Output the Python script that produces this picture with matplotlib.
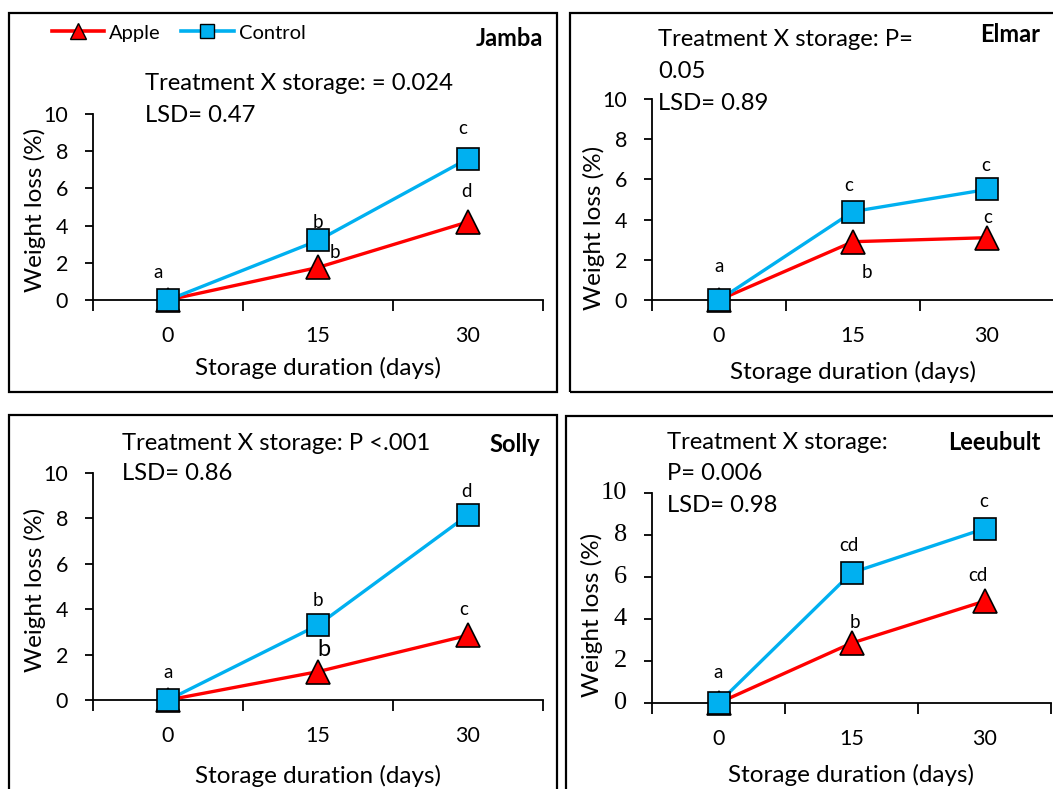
import matplotlib
matplotlib.use("Agg")
import matplotlib.pyplot as plt
from matplotlib import font_manager
from matplotlib.lines import Line2D
from matplotlib.patches import Rectangle
from matplotlib.transforms import ScaledTranslation

plt.rcParams['font.family'] = ['Lato', 'DejaVu Sans']

W, H = 1053, 789
DPI = 100

days = ["0", "15", "30"]
y_ticks = [0, 2, 4, 6, 8, 10]

# Data
jamba_apple = [0.0, 1.75, 4.2]
jamba_control = [0.0, 3.2, 7.6]
elmar_apple = [0.0, 2.9, 3.1]
elmar_control = [0.0, 4.4, 5.5]
solly_apple = [0.0, 1.25, 2.85]
solly_control = [0.0, 3.3, 8.15]
leeubult_apple = [0.0, 2.85, 4.85]
leeubult_control = [0.0, 6.2, 8.3]

cultivars = ["Jamba", "Elmar", "Solly", "Leeubult"]
stats_text = [
    ["Treatment X storage: = 0.024", "LSD= 0.47"],
    ["Treatment X storage: P=", "0.05", "LSD= 0.89"],
    ["Treatment X storage: P <.001", "LSD= 0.86"],
    ["Treatment X storage:", "P= 0.006", "LSD= 0.98"],
]

# letters: (series, index, text)
jamba_letters = [("c", 0, "a"), ("c", 1, "b"), ("a", 1, "b"), ("c", 2, "c"), ("a", 2, "d")]
elmar_letters = [("c", 0, "a"), ("c", 1, "c"), ("a", 1, "b"), ("c", 2, "c"), ("a", 2, "c")]
solly_letters = [("c", 0, "a"), ("c", 1, "b"), ("a", 1, "b"), ("c", 2, "d"), ("a", 2, "c")]
leeubult_letters = [("c", 0, "a"), ("c", 1, "cd"), ("a", 1, "b"), ("c", 2, "c"), ("a", 2, "cd")]

RED = "#FF0000"
BLUE = "#00B0F0"

# serif font for the Leeubult y tick labels
SERIF = "Liberation Serif"
try:
    _p = font_manager.findfont(font_manager.FontProperties(family=SERIF), fallback_to_default=False)
    if "erif" not in _p:
        SERIF = "DejaVu Serif"
except Exception:
    SERIF = "DejaVu Serif"

fig = plt.figure(figsize=(W / DPI, H / DPI), dpi=DPI)


def fx(x):
    return x / W


def fy(y):
    return 1 - y / H


def px2pt(v):
    return v * 72 / DPI


# layout per panel (pixels)
panels = [
    dict(box=(9, 13, 557, 392), ax=(93, 543, 300, 114), apple=jamba_apple, control=jamba_control,
         letters=jamba_letters,
         offs=[(-10, 27), (0, 18), (17, 15), (-5, 30), (-2, 30)], big=False,
         stats_xy=(145, 84), stats_dy=32, title_xy=(543, 38), ylab=(35, 210), xlab_y=368, serif=False),
    dict(box=(570, 13, 1065, 392), ax=(652, 1054, 300, 99), apple=elmar_apple, control=elmar_control,
         letters=elmar_letters,
         offs=[(0, 34), (-4, 26), (14, -31), (-1, 24), (1, 20)], big=False,
         stats_xy=(658, 40), stats_dy=31.5, title_xy=(1040, 35), ylab=(594, 228), xlab_y=372, serif=False),
    dict(box=(9, 415, 557, 800), ax=(93, 543, 700, 473), apple=solly_apple, control=solly_control,
         letters=solly_letters,
         offs=[(0, 27), (0, 25), (6, 22), (-2, 23), (-4, 26)], big=True,
         stats_xy=(122, 443), stats_dy=31, title_xy=(540, 445), ylab=(35, 590), xlab_y=776, serif=False),
    dict(box=(566, 416, 1065, 800), ax=(652, 1051, 703, 493), apple=leeubult_apple, control=leeubult_control,
         letters=leeubult_letters,
         offs=[(0, 31), (-3, 27), (3, 21), (-1, 27), (-7, 26)], big=False,
         stats_xy=(667, 442), stats_dy=32, title_xy=(1040, 443), ylab=(592, 615), xlab_y=775, serif=True),
]

for i, p in enumerate(panels):
    x0, y0, x1, y1 = p["box"]
    fig.add_artist(Rectangle((fx(x0), fy(y1)), fx(x1 - x0), (y1 - y0) / H,
                             transform=fig.transFigure, fill=False, lw=1.6,
                             edgecolor="black", zorder=0))
    l, r, yb, yt = p["ax"]
    ax = fig.add_axes([fx(l), fy(yb), fx(r - l), (yb - yt) / H])
    ax.set_facecolor("none")
    xs = list(range(len(days)))
    ax.plot(xs, p["apple"], color=RED, lw=2.4, marker="^", markersize=17.5,
            markerfacecolor=RED, markeredgecolor="black", markeredgewidth=1.2,
            clip_on=False, zorder=3)
    ax.plot(xs, p["control"], color=BLUE, lw=2.4, marker="s", markersize=16,
            markerfacecolor=BLUE, markeredgecolor="black", markeredgewidth=1.2,
            clip_on=False, zorder=4)
    ax.set_xlim(-0.5, len(days) - 0.5)
    ax.set_ylim(0, 10)
    for s in ["top", "right"]:
        ax.spines[s].set_visible(False)
    ax.spines["left"].set_linewidth(1.3)
    ax.spines["bottom"].set_linewidth(1.3)
    ax.set_xticks([k - 0.5 for k in range(len(days) + 1)])
    ax.set_xticklabels([])
    ax.set_xticks(xs, minor=True)
    ax.set_xticklabels(days, minor=True)
    ax.tick_params(axis="x", which="major", direction="out", length=8, width=1.3)
    ax.tick_params(axis="x", which="minor", length=0, pad=19, labelsize=15.5)
    ax.tick_params(axis="y", direction="out", length=6, width=1.3, pad=12, labelsize=15.5)
    ax.set_yticks(y_ticks)
    if p["serif"]:
        ax.tick_params(axis="y", labelleft=False)
        trans = ax.get_yaxis_transform() + ScaledTranslation(-25 / DPI, 0, fig.dpi_scale_trans)
        for v in y_ticks:
            ax.text(0, v, str(v), transform=trans, ha="right", va="center",
                    fontfamily=SERIF, fontsize=19, clip_on=False)

    # letters
    for (ser, idx, txt), (dx, dy) in zip(p["letters"], p["offs"]):
        val = p["apple"][idx] if ser == "a" else p["control"][idx]
        size = 17 if (p["big"] and (ser, idx) == ("a", 1)) else 13.5
        ax.annotate(txt, (idx, val), xytext=(px2pt(dx), px2pt(dy)), textcoords="offset points",
                    ha="center", va="center", fontsize=size, annotation_clip=False, zorder=5)

    # axis labels
    lx, ly = p["ylab"]
    fig.text(fx(lx), fy(ly), "Weight loss (%)", rotation=90,
             ha="center", va="center", fontsize=17.5)
    fig.text(fx((l + r) / 2), fy(p["xlab_y"]), "Storage duration (days)",
             ha="center", va="center", fontsize=17.5)

    # stats text
    sx, sy = p["stats_xy"]
    for j, line in enumerate(stats_text[i]):
        fig.text(fx(sx), fy(sy + j * p["stats_dy"]), line, ha="left", va="center", fontsize=17.2)

    tx, ty = p["title_xy"]
    fig.text(fx(tx), fy(ty), cultivars[i], ha="right", va="center", fontsize=17, fontweight="bold")

handles = [
    Line2D([], [], color=RED, lw=2.6, marker="^", markersize=11, markerfacecolor=RED,
           markeredgecolor="black", markeredgewidth=1.0),
    Line2D([], [], color=BLUE, lw=2.6, marker="s", markersize=9.5, markerfacecolor=BLUE,
           markeredgecolor="black", markeredgewidth=1.0),
]
fig.legend(handles, ["Apple", "Control"], loc="center left", bbox_to_anchor=(fx(52), fy(33)),
           ncol=2, frameon=False, fontsize=14.5, handlelength=2.6, handletextpad=0.25,
           columnspacing=1.0, borderpad=0, borderaxespad=0)

fig.savefig("out.png", dpi=DPI)
